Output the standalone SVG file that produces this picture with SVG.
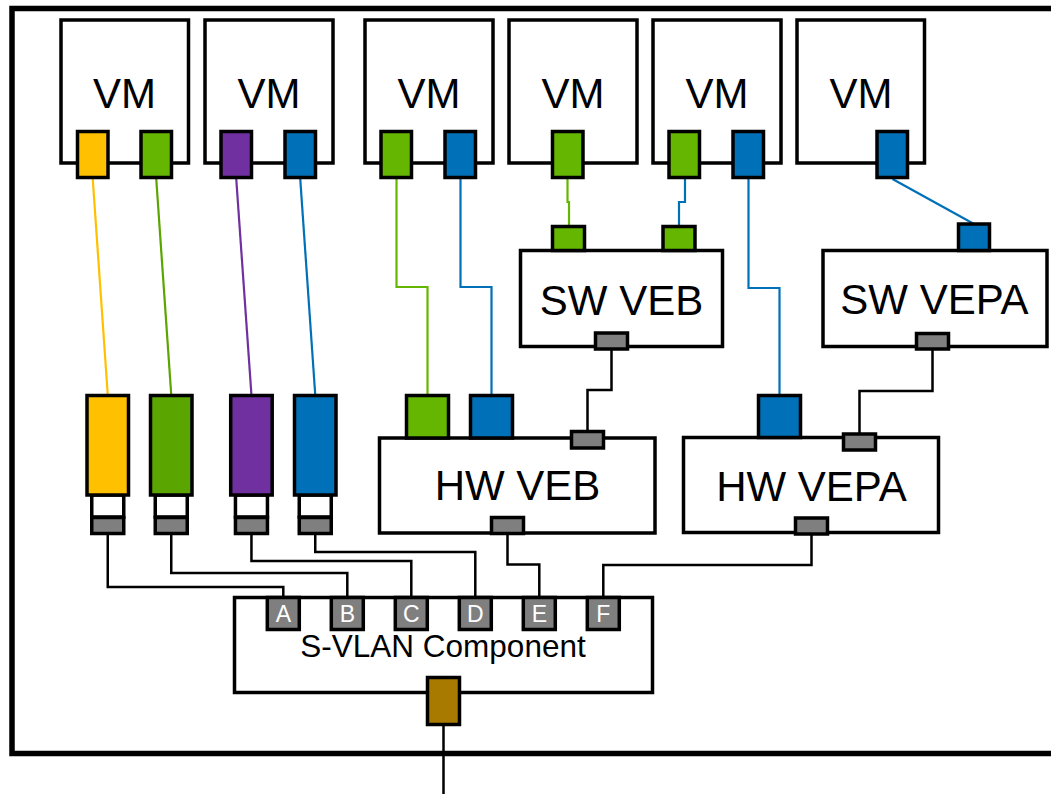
<svg xmlns="http://www.w3.org/2000/svg" width="1051" height="794" viewBox="0 0 1051 794">
<defs>
<style>
.box{fill:#fff;stroke:#000;stroke-width:3.5}
.p{stroke:#000;stroke-width:3.5}
.y{fill:#FFC000}.g{fill:#64B600}.gd{fill:#5AA500}.pu{fill:#7030A0}.b{fill:#0070B8}.gr{fill:#7F7F7F}.br{fill:#A87A00}.w{fill:#fff}
.lbl{font-family:"Liberation Sans",Arial,sans-serif;font-size:42px;fill:#000;text-anchor:middle}
.sl{font-family:"Liberation Sans",Arial,sans-serif;font-size:31.5px;fill:#000;text-anchor:middle}
.pl{font-family:"Liberation Sans",Arial,sans-serif;font-size:23px;fill:#fff;text-anchor:middle}
.c{fill:none;stroke-width:2.2}
.k{fill:none;stroke:#000;stroke-width:2.5}
</style>
</defs>
<rect width="1051" height="794" fill="#fff"/>
<rect id="host" x="12" y="8.5" width="1070" height="745" fill="none" stroke="#000" stroke-width="5.5"/>

<g id="connectors">
<path class="c" stroke="#FFC000" d="M92.75 179 L107.75 395"/>
<path class="c" stroke="#5AA500" d="M156.25 179 L171.25 395"/>
<path class="c" stroke="#7030A0" d="M236.25 179 L251.45 395"/>
<path class="c" stroke="#0070B8" d="M300.25 179 L315.25 395"/>
<path class="c" stroke="#64B600" d="M396.5 179 V287 H427.5 V395"/>
<path class="c" stroke="#0070B8" d="M460.5 179 V287 H491.5 V395"/>
<path class="c" stroke="#64B600" d="M567.5 179 V202 H569 V226"/>
<path class="c" stroke="#0070B8" d="M685 179 V202 H679 V226"/>
<path class="c" stroke="#0070B8" d="M748.5 179 V288 H779.5 V395"/>
<path class="c" stroke="#0070B8" d="M892.5 179 L974 224"/>
<path class="k" d="M611.5 349 V390 H587.5 V432"/>
<path class="k" d="M932.5 349 V391 H859.5 V434"/>
<path class="k" d="M107.75 534 V587 H283.3 V597"/>
<path class="k" d="M171.25 534 V573 H347.3 V597"/>
<path class="k" d="M251.45 534 V561 H411.3 V597"/>
<path class="k" d="M315.25 534 V552 H475.3 V597"/>
<path class="k" d="M507.5 534 V564.5 H539.3 V597"/>
<path class="k" d="M811.5 534 V565 H603.3 V597"/>
<path class="k" d="M443.5 725 V794"/>
</g>

<g id="vm1">
<rect class="box" x="61" y="20" width="127.5" height="143"/>
<text class="lbl" x="124.5" y="108">VM</text>
<rect class="p y" x="77.5" y="131.5" width="30.5" height="46"/>
<rect class="p g" x="141" y="131.5" width="30.5" height="46"/>
</g>
<g id="vm2">
<rect class="box" x="205" y="20" width="128" height="143"/>
<text class="lbl" x="269" y="108">VM</text>
<rect class="p pu" x="221" y="131.5" width="30.5" height="46"/>
<rect class="p b" x="285" y="131.5" width="30.5" height="46"/>
</g>
<g id="vm3">
<rect class="box" x="365" y="20" width="128" height="143"/>
<text class="lbl" x="429" y="108">VM</text>
<rect class="p g" x="381" y="131.5" width="30.5" height="46"/>
<rect class="p b" x="445" y="131.5" width="30.5" height="46"/>
</g>
<g id="vm4">
<rect class="box" x="509" y="20" width="128" height="143"/>
<text class="lbl" x="573" y="108">VM</text>
<rect class="p g" x="552.5" y="131.5" width="30.5" height="46"/>
</g>
<g id="vm5">
<rect class="box" x="653" y="20" width="128" height="143"/>
<text class="lbl" x="717" y="108">VM</text>
<rect class="p g" x="669" y="131.5" width="30.5" height="46"/>
<rect class="p b" x="733" y="131.5" width="30.5" height="46"/>
</g>
<g id="vm6">
<rect class="box" x="797" y="20" width="127.5" height="143"/>
<text class="lbl" x="861" y="108">VM</text>
<rect class="p b" x="877" y="131.5" width="30.5" height="46"/>
</g>

<g id="nic-yellow">
<rect class="p w" x="91.75" y="495" width="32" height="22"/>
<rect class="p gr" x="91.75" y="517.5" width="32" height="16"/>
<rect class="p y" x="87" y="395.5" width="41.5" height="99.5"/>
</g>
<g id="nic-green">
<rect class="p w" x="155.25" y="495" width="32" height="22"/>
<rect class="p gr" x="155.25" y="517.5" width="32" height="16"/>
<rect class="p gd" x="150.5" y="395.5" width="41.5" height="99.5"/>
</g>
<g id="nic-purple">
<rect class="p w" x="235.45" y="495" width="32" height="22"/>
<rect class="p gr" x="235.45" y="517.5" width="32" height="16"/>
<rect class="p pu" x="230.7" y="395.5" width="41.5" height="99.5"/>
</g>
<g id="nic-blue">
<rect class="p w" x="299.25" y="495" width="32" height="22"/>
<rect class="p gr" x="299.25" y="517.5" width="32" height="16"/>
<rect class="p b" x="294.5" y="395.5" width="41.5" height="99.5"/>
</g>

<g id="sw-veb">
<rect class="box" x="520.5" y="250.5" width="202" height="96"/>
<text class="lbl" x="621.5" y="315">SW VEB</text>
<rect class="p g" x="552.5" y="226.5" width="32" height="24"/>
<rect class="p g" x="663" y="226.5" width="32" height="24"/>
<rect class="p gr" x="595.5" y="333" width="32" height="16"/>
</g>
<g id="sw-vepa">
<rect class="box" x="823" y="250.5" width="224" height="96"/>
<text class="lbl" x="934.5" y="314">SW VEPA</text>
<rect class="p b" x="958.5" y="224" width="31" height="26.5"/>
<rect class="p gr" x="916.5" y="333.5" width="32" height="15.5"/>
</g>
<g id="hw-veb">
<rect class="box" x="379.5" y="438" width="275.5" height="95"/>
<text class="lbl" x="517.5" y="500">HW VEB</text>
<rect class="p g" x="406.5" y="395.5" width="42" height="42.5"/>
<rect class="p b" x="470.5" y="395.5" width="42" height="42.5"/>
<rect class="p gr" x="571.5" y="431.5" width="32" height="16.5"/>
<rect class="p gr" x="491.5" y="517.5" width="32" height="16"/>
</g>
<g id="hw-vepa">
<rect class="box" x="683.5" y="437.5" width="255" height="95"/>
<text class="lbl" x="811.5" y="501">HW VEPA</text>
<rect class="p b" x="758.5" y="395.5" width="42" height="42"/>
<rect class="p gr" x="843.5" y="434" width="32" height="16"/>
<rect class="p gr" x="795.5" y="518" width="32" height="16"/>
</g>
<g id="s-vlan">
<rect class="box" x="234.5" y="597.5" width="418" height="95"/>
<text class="sl" x="443" y="657">S-VLAN Component</text>
<rect class="p gr" x="267.3" y="597.5" width="32" height="32"/>
<text class="pl" x="283.3" y="622">A</text>
<rect class="p gr" x="331.3" y="597.5" width="32" height="32"/>
<text class="pl" x="347.3" y="622">B</text>
<rect class="p gr" x="395.3" y="597.5" width="32" height="32"/>
<text class="pl" x="411.3" y="622">C</text>
<rect class="p gr" x="459.3" y="597.5" width="32" height="32"/>
<text class="pl" x="475.3" y="622">D</text>
<rect class="p gr" x="523.3" y="597.5" width="32" height="32"/>
<text class="pl" x="539.3" y="622">E</text>
<rect class="p gr" x="587.3" y="597.5" width="32" height="32"/>
<text class="pl" x="603.3" y="622">F</text>
<rect class="p br" x="427.5" y="677.5" width="32" height="47"/>
</g>
</svg>
